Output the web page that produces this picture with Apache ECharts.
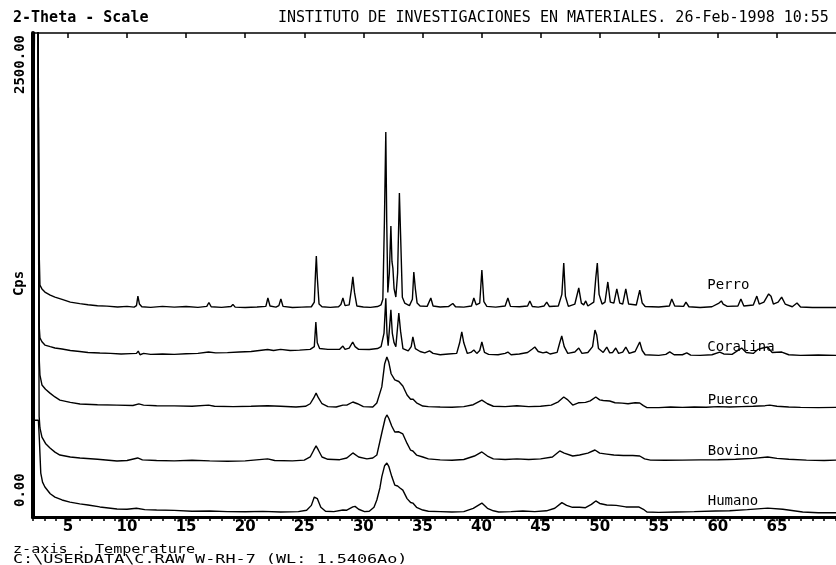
<!DOCTYPE html>
<html>
<head>
<meta charset="utf-8">
<title>2-Theta - Scale</title>
<script src="https://cdn.jsdelivr.net/npm/echarts@6/dist/echarts.min.js"></script>
<style>
  html, body { margin: 0; padding: 0; background: #fff; }
  #chart { width: 836px; height: 565px; }
</style>
</head>
<body>
<div id="chart"></div>
<script>
// [2-theta (deg), Cps], top trace first
const perro = [
  [2.0, 3000], [2.45, 2800], [2.57, 1350], [2.63, 1198], [2.8, 1178], [3.05, 1162], [3.5, 1146], [3.9, 1136],
  [4.5, 1124], [5.2, 1110], [6.0, 1102], [6.7, 1096], [7.5, 1091], [8.3, 1089], [9.2, 1085], [10.0, 1088],
  [10.6, 1084], [10.8, 1092], [10.92, 1141], [11.05, 1100], [11.25, 1086], [12.0, 1083], [13.0, 1088],
  [14.0, 1084], [15.0, 1087], [16.0, 1083], [16.75, 1088], [16.93, 1108], [17.12, 1086], [18.0, 1083],
  [18.8, 1087], [18.96, 1098], [19.15, 1084], [20.0, 1082], [21.0, 1085], [21.75, 1088], [21.92, 1131],
  [22.1, 1090], [22.6, 1084], [22.85, 1092], [23.02, 1126], [23.2, 1088], [24.0, 1082], [24.8, 1084],
  [25.6, 1086], [25.85, 1110], [25.95, 1260], [26.02, 1348], [26.1, 1240], [26.25, 1100], [26.5, 1086],
  [27.2, 1083], [27.9, 1086], [28.1, 1098], [28.27, 1131], [28.45, 1092], [28.8, 1096], [29.0, 1180],
  [29.11, 1240], [29.25, 1160], [29.45, 1090], [30.0, 1085], [30.6, 1083], [31.2, 1087], [31.5, 1096],
  [31.65, 1125], [31.78, 1520], [31.9, 1989], [31.98, 1520], [32.07, 1160], [32.2, 1260], [32.33, 1503],
  [32.42, 1320], [32.5, 1286], [32.6, 1180], [32.75, 1136], [32.9, 1260], [33.05, 1673], [33.15, 1460],
  [33.3, 1135], [33.5, 1105], [33.9, 1092], [34.15, 1125], [34.27, 1265], [34.4, 1180], [34.55, 1105],
  [34.8, 1090], [35.4, 1088], [35.71, 1131], [35.9, 1090], [36.5, 1085], [37.2, 1087], [37.57, 1103],
  [37.8, 1086], [38.5, 1084], [39.15, 1090], [39.35, 1131], [39.55, 1096], [39.85, 1105], [40.03, 1276],
  [40.2, 1112], [40.45, 1088], [41.2, 1084], [42.0, 1090], [42.23, 1131], [42.45, 1088], [43.2, 1086],
  [43.9, 1090], [44.09, 1116], [44.3, 1087], [44.8, 1084], [45.3, 1090], [45.52, 1110], [45.75, 1087],
  [46.5, 1090], [46.8, 1150], [46.96, 1312], [47.1, 1140], [47.35, 1088], [47.9, 1100], [48.23, 1183],
  [48.45, 1105], [48.65, 1096], [48.82, 1116], [49.0, 1090], [49.5, 1110], [49.67, 1234], [49.8, 1312],
  [49.95, 1150], [50.2, 1100], [50.45, 1110], [50.69, 1214], [50.9, 1110], [51.2, 1105], [51.45, 1178],
  [51.7, 1105], [51.95, 1100], [52.21, 1178], [52.45, 1100], [53.1, 1095], [53.39, 1172], [53.6, 1105],
  [53.85, 1087], [55.0, 1085], [55.9, 1090], [56.1, 1126], [56.35, 1090], [57.1, 1088], [57.3, 1110],
  [57.55, 1086], [58.5, 1082], [59.5, 1086], [60.1, 1105], [60.3, 1116], [60.45, 1100], [60.6, 1110],
  [60.8, 1088], [61.7, 1090], [61.95, 1126], [62.2, 1090], [63.0, 1095], [63.3, 1141], [63.5, 1100],
  [63.9, 1110], [64.3, 1152], [64.5, 1140], [64.7, 1100], [65.1, 1110], [65.4, 1136], [65.7, 1100],
  [66.3, 1086], [66.7, 1105], [67.0, 1085], [68.0, 1082], [69.0, 1083], [70.0, 1082]
];

const coralina = [
  [2.0, 992], [2.15, 1000], [2.22, 3000], [2.45, 3000], [2.55, 1000], [2.63, 925], [2.8, 905], [3.05, 888],
  [3.5, 880], [3.9, 873], [4.5, 868], [5.2, 860], [6.0, 855], [6.7, 850], [7.7, 847], [8.6, 845], [9.5, 842],
  [10.3, 844], [10.8, 845], [10.95, 857], [11.1, 838], [11.4, 845], [12.0, 840], [13.0, 842], [14.0, 840],
  [15.0, 843], [16.0, 845], [16.9, 852], [17.5, 848], [18.5, 849], [19.5, 852], [20.5, 855], [21.9, 865],
  [22.4, 860], [23.0, 866], [23.8, 860], [24.6, 862], [25.5, 866], [25.85, 880], [25.98, 1007], [26.1, 900],
  [26.3, 870], [27.0, 866], [28.0, 866], [28.27, 883], [28.45, 866], [28.8, 872], [29.1, 904], [29.3, 880],
  [29.6, 866], [30.5, 865], [31.2, 870], [31.5, 880], [31.6, 885], [31.75, 950], [31.9, 1130], [32.0, 950],
  [32.1, 885], [32.33, 1070], [32.45, 950], [32.6, 900], [32.75, 880], [33.0, 1054], [33.15, 960],
  [33.35, 870], [33.8, 858], [34.05, 880], [34.19, 930], [34.4, 870], [34.8, 855], [35.2, 848], [35.6, 858],
  [35.9, 845], [36.5, 838], [37.2, 842], [37.9, 845], [38.15, 900], [38.33, 956], [38.5, 900], [38.8, 845],
  [39.1, 850], [39.35, 863], [39.6, 845], [39.85, 860], [40.03, 904], [40.25, 850], [40.6, 840], [41.4, 838],
  [42.0, 845], [42.23, 852], [42.5, 838], [43.2, 842], [43.9, 850], [44.3, 868], [44.51, 878], [44.8, 855],
  [45.2, 848], [45.52, 852], [45.8, 842], [46.4, 850], [46.62, 900], [46.79, 935], [47.0, 880], [47.3, 845],
  [47.9, 852], [48.23, 873], [48.5, 845], [49.0, 850], [49.4, 880], [49.6, 966], [49.75, 940], [49.9, 870],
  [50.3, 850], [50.6, 878], [50.85, 848], [51.1, 850], [51.36, 873], [51.6, 845], [51.95, 852], [52.21, 878],
  [52.5, 845], [53.0, 855], [53.39, 904], [53.6, 860], [53.85, 838], [55.0, 835], [55.6, 840], [55.93, 853],
  [56.3, 838], [57.0, 838], [57.37, 848], [57.7, 836], [58.5, 835], [59.5, 838], [60.16, 852], [60.5, 842],
  [61.2, 840], [62.02, 873], [62.4, 850], [63.0, 845], [63.4, 866], [63.8, 873], [64.2, 878], [64.6, 850],
  [65.41, 852], [66.0, 838], [67.0, 835], [68.5, 837], [70.0, 835]
];

const puerco = [
  [2.0, 3000], [2.45, 2800], [2.58, 800], [2.63, 733], [2.8, 682], [3.1, 660], [3.48, 640], [3.9, 620],
  [4.32, 604], [5.2, 592], [6.02, 584], [7.5, 580], [9.15, 578], [10.5, 576], [11.0, 584], [11.4, 578],
  [12.5, 575], [14.0, 574], [15.5, 572], [16.9, 578], [17.4, 572], [19.0, 570], [20.5, 572], [21.9, 575],
  [23.0, 572], [24.3, 568], [25.1, 572], [25.5, 585], [25.8, 615], [26.0, 640], [26.2, 615], [26.5, 585],
  [27.0, 570], [27.7, 568], [28.27, 578], [28.6, 578], [29.11, 594], [29.5, 585], [30.0, 570], [30.8, 568],
  [31.14, 589], [31.56, 672], [31.8, 790], [31.99, 826], [32.15, 800], [32.35, 740], [32.66, 708],
  [33.0, 700], [33.34, 677], [33.7, 630], [34.0, 608], [34.19, 609], [34.5, 590], [35.03, 573], [35.5, 570],
  [36.5, 568], [37.5, 567], [38.5, 570], [39.3, 580], [40.03, 604], [40.5, 585], [41.0, 572], [42.0, 570],
  [43.0, 575], [44.0, 570], [45.0, 572], [45.9, 578], [46.5, 595], [46.96, 620], [47.3, 605], [47.72, 578],
  [48.2, 590], [48.8, 592], [49.2, 600], [49.67, 620], [50.0, 605], [50.3, 602], [50.85, 599], [51.3, 590],
  [51.9, 588], [52.4, 585], [53.0, 590], [53.39, 589], [53.7, 575], [54.0, 565], [55.0, 565], [56.0, 568],
  [57.0, 566], [58.0, 568], [59.0, 567], [60.0, 570], [61.0, 568], [62.0, 570], [63.0, 572], [64.0, 575],
  [64.4, 578], [65.0, 572], [66.0, 568], [67.0, 566], [68.5, 565], [70.0, 566]
];

const bovino = [
  [2.0, 3000], [2.45, 2800], [2.56, 520], [2.63, 460], [2.8, 413], [3.1, 380], [3.48, 356], [3.9, 335],
  [4.32, 320], [5.2, 310], [6.02, 305], [7.5, 298], [9.15, 289], [10.0, 292], [10.9, 305], [11.3, 295],
  [12.5, 292], [14.0, 290], [15.5, 293], [17.0, 290], [18.5, 288], [20.0, 290], [21.9, 300], [22.5, 292],
  [24.0, 290], [25.0, 294], [25.5, 310], [25.8, 345], [26.0, 367], [26.2, 345], [26.5, 310], [27.0, 298],
  [28.0, 296], [28.6, 305], [29.11, 331], [29.6, 310], [30.3, 300], [30.8, 305], [31.14, 320], [31.56, 434],
  [31.85, 510], [31.99, 527], [32.15, 510], [32.4, 470], [32.66, 439], [33.0, 440], [33.34, 429],
  [33.7, 380], [34.0, 345], [34.19, 341], [34.5, 320], [35.03, 310], [35.5, 300], [36.5, 295], [37.5, 293],
  [38.5, 297], [39.4, 315], [40.03, 336], [40.5, 315], [41.0, 300], [42.0, 297], [43.0, 300], [44.0, 297],
  [45.0, 300], [46.0, 310], [46.62, 341], [47.0, 330], [47.72, 315], [48.3, 320], [49.0, 330], [49.6, 346],
  [50.0, 330], [50.6, 325], [51.2, 320], [52.0, 318], [52.8, 318], [53.39, 315], [53.8, 300], [54.3, 294],
  [55.5, 293], [57.0, 294], [58.5, 295], [60.0, 296], [61.5, 298], [63.0, 303], [64.22, 310], [65.0, 303],
  [66.0, 298], [67.5, 294], [69.0, 292], [70.0, 294]
];

const humano = [
  [2.0, 500], [2.5, 500], [2.58, 400], [2.7, 227], [2.85, 180], [3.05, 155], [3.5, 120], [3.9, 103],
  [4.5, 88], [5.17, 77], [6.0, 68], [6.7, 62], [7.7, 52], [9.15, 41], [10.0, 40], [10.8, 45], [11.5, 38],
  [12.5, 36], [14.0, 34], [15.5, 30], [17.0, 31], [18.5, 28], [20.0, 27], [21.5, 29], [23.0, 26], [24.5, 28],
  [25.2, 35], [25.6, 60], [25.85, 103], [26.1, 95], [26.4, 50], [26.8, 30], [27.5, 28], [28.27, 36],
  [28.6, 35], [29.11, 52], [29.3, 55], [29.6, 40], [30.1, 28], [30.5, 30], [30.9, 50], [31.14, 88],
  [31.4, 150], [31.56, 207], [31.8, 265], [31.99, 279], [32.15, 262], [32.4, 210], [32.66, 165], [32.9, 160],
  [33.1, 150], [33.34, 139], [33.7, 95], [34.0, 75], [34.19, 72], [34.5, 50], [35.03, 36], [35.5, 30],
  [36.5, 28], [37.5, 26], [38.5, 28], [39.3, 45], [40.03, 72], [40.5, 45], [41.0, 32], [41.46, 26],
  [42.5, 28], [43.5, 31], [44.5, 28], [45.5, 32], [46.2, 45], [46.8, 74], [47.2, 60], [47.7, 50], [48.3, 50],
  [48.8, 48], [49.3, 65], [49.67, 83], [50.0, 70], [50.6, 62], [51.4, 60], [52.21, 52], [52.8, 52],
  [53.3, 52], [53.7, 40], [54.0, 26], [55.0, 24], [56.5, 26], [58.0, 28], [59.8, 31], [61.0, 32],
  [62.5, 38], [64.22, 46], [65.5, 40], [67.18, 26], [68.5, 22], [70.0, 22]
];

const sampleNames = ['Perro', 'Coralina', 'Puerco', 'Bovino', 'Humano'];
const sampleData = [perro, coralina, puerco, bovino, humano];
const xMajorTicks = [5, 10, 15, 20, 25, 30, 35, 40, 45, 50, 55, 60, 65];

const MONO = '"DejaVu Sans Mono", monospace';

// where each sample name is written (2-theta of its left edge, Cps of its middle)
const nameAt = [[59.06, 1198], [59.06, 878], [59.1, 604], [59.1, 341], [59.1, 83]];

const chart = echarts.init(document.getElementById('chart'), null, { renderer: 'canvas' });

const series = sampleNames.map((name, i) => ({
  name: name,
  type: 'line',
  data: sampleData[i],
  symbol: 'none',
  clip: true,
  silent: true,
  lineStyle: { color: '#000', width: 1.4 },
  markPoint: {
    symbol: 'circle',
    symbolSize: 1,
    silent: true,
    itemStyle: { color: 'rgba(0,0,0,0)' },
    label: {
      show: true,
      position: 'right',
      distance: 0,
      formatter: name,
      color: '#000',
      fontFamily: MONO,
      fontSize: 14
    },
    data: [{ coord: nameAt[i] }]
  }
}));

const option = {
  animation: false,
  backgroundColor: '#fff',
  grid: { left: 32.5, right: 0, top: 33, bottom: 48, containLabel: false, outerBoundsMode: 'none' },
  xAxis: [
    {
      type: 'value',
      position: 'bottom',
      min: 2,
      max: 70,
      interval: 1,
      splitLine: { show: false },
      axisLine: { lineStyle: { color: '#000', width: 3 } },
      axisTick: { show: true, length: 4, lineStyle: { color: '#000', width: 1.5 } },
      axisLabel: {
        interval: 0,
        margin: 3,
        color: '#000',
        fontFamily: '"DejaVu Sans", sans-serif',
        fontWeight: 'bold',
        fontSize: 15,
        formatter: v => (v % 5 === 0 && v < 70 ? String(v) : '')
      }
    },
    {
      type: 'value',
      position: 'top',
      min: 2,
      max: 70,
      splitLine: { show: false },
      axisLine: { lineStyle: { color: '#000', width: 1.5 } },
      axisTick: { show: true, inside: true, length: 5, customValues: xMajorTicks, lineStyle: { color: '#000', width: 1.5 } },
      axisLabel: { show: false }
    }
  ],
  yAxis: {
    type: 'value',
    min: 0,
    max: 2500,
    interval: 2500,
    // trailing spaces nudge the rotated name a little below the middle, as in the scan
    name: 'Cps  ',
    nameLocation: 'middle',
    nameRotate: 90,
    nameGap: 6,
    nameMoveOverlap: false,
    nameTextStyle: { color: '#000', fontFamily: MONO, fontWeight: 'bold', fontSize: 14 },
    splitLine: { show: false },
    axisTick: { show: false },
    axisLine: { lineStyle: { color: '#000', width: 4 } },
    axisLabel: {
      rotate: 90,
      margin: 12,
      color: '#000',
      fontFamily: MONO,
      fontWeight: 'bold',
      fontSize: 14,
      verticalAlign: 'middle',
      alignMinLabel: 'left',
      alignMaxLabel: 'right',
      padding: [0, 2, 0, 10],
      formatter: v => v.toFixed(2)
    }
  },
  graphic: [
    {
      type: 'text', x: 13, y: 18.5,
      style: { text: '2-Theta - Scale', fill: '#000', fontFamily: MONO, fontWeight: 'bold', fontSize: 15, verticalAlign: 'middle' }
    },
    {
      type: 'text', x: 278, y: 18.5,
      style: { text: 'INSTITUTO DE INVESTIGACIONES EN MATERIALES. 26-Feb-1998 10:55', fill: '#000', fontFamily: MONO, fontSize: 15, verticalAlign: 'middle' }
    },
    {
      type: 'text', x: 13, y: 549.5, scaleX: 1.26,
      style: { text: 'z-axis : Temperature', fill: '#000', fontFamily: MONO, fontSize: 12, verticalAlign: 'middle' }
    },
    {
      type: 'text', x: 13, y: 560, scaleX: 1.4,
      style: { text: 'C:\\USERDATA\\C.RAW W-RH-7 (WL: 1.5406Ao)', fill: '#000', fontFamily: MONO, fontSize: 12, verticalAlign: 'middle' }
    }
  ],
  series: series
};

chart.setOption(option);

window.addEventListener('resize', () => {
  chart.resize();
});
</script>
</body>
</html>
